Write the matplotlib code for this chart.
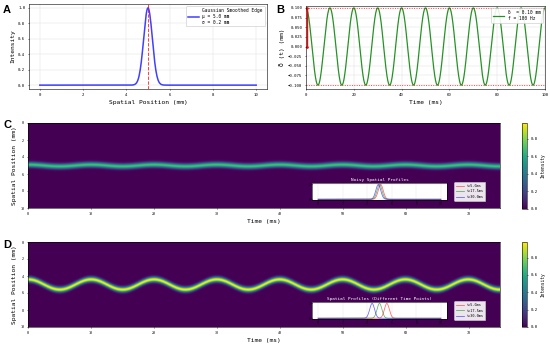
import numpy as np
import matplotlib
matplotlib.use("Agg")
import matplotlib.pyplot as plt

plt.rcParams["font.family"] = ["DejaVu Sans Mono", "DejaVu Sans"]
plt.rcParams["mathtext.fontset"] = "dejavusans"

# ---- data / parameters ----
mu_mm = 5.0
sigma_mm = 0.2
delta_B = 0.10          # mm
freq_hz = 100           # Hz
delta_C = 0.10          # mm (panel C oscillation)
peak_C = 0.70           # band intensity in panel C
delta_D = 0.60          # mm (panel D oscillation)
peak_D = 1.0
profile_times = [5.0, 17.5, 30.0]        # ms
profile_colors = ["red", "green", "blue"]
profile_labels = ["t=5.0ms", "t=17.5ms", "t=30.0ms"]
t_max_B = 100           # ms
t_max_CD = 75           # ms
x_max = 10              # mm
cbar_ticks = [0.0, 0.2, 0.4, 0.6, 0.8]

W, H = 550, 347
fig = plt.figure(figsize=(11, 6.94), dpi=50)

def rect(l, t, r, b):
    return [l / W, 1 - b / H, (r - l) / W, (b - t) / H]

TICK = 5.8
LAB = 9

x = np.linspace(0, x_max, 400)

def gauss(xx, m, s):
    return np.exp(-(xx - m) ** 2 / (2 * s ** 2))

# ---- Panel A ----
axA = fig.add_axes(rect(29, 4, 267, 89))
axA.plot(x, gauss(x, mu_mm, sigma_mm), color="blue", lw=2.2, alpha=0.75,
         label="Gaussian Smoothed Edge\nμ = 5.0 mm\nσ = 0.2 mm")
axA.axvline(mu_mm, color="red", ls="--", lw=1.3, alpha=0.8)
axA.set_xlim(-0.5, 10.5)
axA.set_ylim(-0.05, 1.05)
axA.grid(True, color="#dddddd", lw=0.6)
axA.set_xlabel("Spatial Position (mm)", fontsize=LAB)
axA.set_ylabel("Intensity", fontsize=LAB)
axA.tick_params(labelsize=TICK, length=2)
axA.legend(loc="upper right", fontsize=6.5, handlelength=2.5, framealpha=0.9)

# ---- Panel B ----
axB = fig.add_axes(rect(306, 6, 545, 89))
t = np.linspace(0, t_max_B, 2000)
axB.plot(t, delta_B * np.cos(2 * np.pi * freq_hz * t / 1000), color="green", lw=1.8,
         alpha=0.85, label="δ  = 0.10 mm\nf = 100 Hz")
axB.axhline(delta_B, color="red", ls=":", lw=1.3, alpha=0.8)
axB.axhline(-delta_B, color="red", ls=":", lw=1.3, alpha=0.8)
axB.plot([0.3, 0.3], [0, delta_B], color="red", lw=2.0, marker="o", ms=2.5)
axB.set_xlim(0, t_max_B)
axB.set_ylim(-0.11, 0.105)
axB.grid(True, color="#dddddd", lw=0.6)
axB.set_xlabel("Time (ms)", fontsize=LAB)
axB.set_ylabel("δ (t) (mm)", fontsize=LAB)
axB.tick_params(labelsize=TICK, length=2)
axB.legend(loc="upper right", fontsize=6.5, handlelength=2.5, framealpha=0.9)

# ---- Heatmaps ----
tt = np.linspace(0, t_max_CD, 600)
xx = np.linspace(0, x_max, 300)

def heat(delta, peak):
    centers = mu_mm - delta * np.cos(2 * np.pi * freq_hz * tt / 1000)
    return peak * gauss(xx[:, None], centers[None, :], sigma_mm)

def heat_panel(box, cbox, inset_box, delta, peak, title):
    ax = fig.add_axes(rect(*box))
    im = ax.imshow(heat(delta, peak), extent=[0, t_max_CD, x_max, 0], aspect="auto",
                   cmap="viridis", vmin=0, vmax=0.98, interpolation="bilinear")
    ax.set_xlabel("Time (ms)", fontsize=LAB)
    ax.set_ylabel("Spatial Position (mm)", fontsize=LAB)
    ax.tick_params(labelsize=TICK - 1, length=2)
    cax = fig.add_axes(rect(*cbox))
    cb = fig.colorbar(im, cax=cax, ticks=cbar_ticks)
    cb.ax.tick_params(labelsize=TICK, length=2)
    cb.set_label("Intensity", fontsize=6.5)
    ins = fig.add_axes(rect(*inset_box))
    for tp, c, lab in zip(profile_times, profile_colors, profile_labels):
        m = mu_mm - delta * np.cos(2 * np.pi * freq_hz * tp / 1000)
        ins.plot(x, gauss(x, m, sigma_mm), color=c, lw=1.1, alpha=0.6, label=lab)
    ins.set_xlim(-0.5, 10.5)
    ins.set_ylim(-0.05, 1.1)
    ins.set_yticks([0, 1])
    ins.set_xticks([0, 2, 4, 6, 8, 10])
    ins.grid(True, color="#dddddd", lw=0.5)
    ins.tick_params(labelsize=4.5, length=1.5, pad=1)
    ins.set_title(title, color="white", fontsize=6.3, pad=3)
    ins.legend(loc="center left", bbox_to_anchor=(1.04, 0.5), fontsize=5,
               handlelength=2.5, framealpha=0.9)
    return ax

heat_panel((28, 123, 500, 208), (522, 123, 527, 209), (312, 183, 447, 200),
           delta_C, peak_C, "Noisy Spatial Profiles")
heat_panel((28, 242, 500, 327), (522, 242, 527, 327), (312, 302, 447, 319),
           delta_D, peak_D, "Spatial Profiles (Different Time Points)")

# ---- panel letters ----
for letter, (px, py) in zip("ABCD", [(3, 13), (276, 13), (3, 128), (3, 248)]):
    fig.text(px / W, 1 - py / H, letter, fontsize=16, fontweight="bold",
             family="Liberation Sans")

fig.savefig("out.png", dpi=50)
